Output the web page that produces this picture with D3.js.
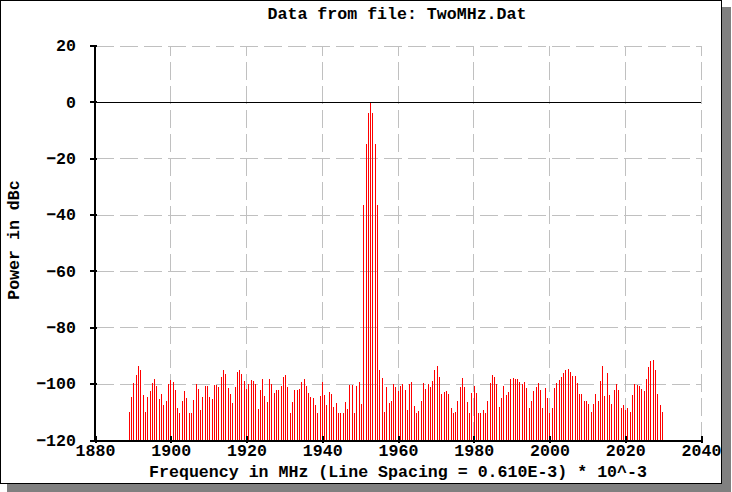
<!DOCTYPE html>
<html><head><meta charset="utf-8">
<script src="https://cdn.jsdelivr.net/npm/d3@7"></script>
<style>
body{margin:0;background:#fff}
svg{display:block}
text{font-family:"Liberation Mono","Courier New",monospace;font-weight:bold;fill:#000}
</style>
</head><body>
<svg id="chart" width="732" height="492"></svg>
<script>
// ---- data ----
const chartTitle = "Data from file: TwoMHz.Dat";
const xTitle = "Frequency in MHz (Line Spacing = 0.610E-3) * 10^-3";
const yTitle = "Power in dBc";
const xTicks = [1880, 1900, 1920, 1940, 1960, 1980, 2000, 2020, 2040];
const yTicks = [20, 0, -20, -40, -60, -80, -100, -120];
const startFreq = 1889.08;     // MHz, first spectral line
const lineSpacing = 0.6066;    // MHz between lines
const powerDbc = [
 -110.2,-104.9,-99.6,-97.0,-93.6,-95.0,-104.0,-110.0,-104.6,-102.5,
 -99.6,-98.2,-101.0,-105.6,-103.6,-107.5,-106.1,-100.3,-98.6,-99.3,
 -102.1,-108.5,-110.3,-106.1,-102.5,-105.0,-110.3,-110.3,-105.7,-100.1,
 -101.8,-109.3,-104.8,-100.7,-100.7,-104.9,-105.6,-100.6,-100.6,-101.3,
 -97.7,-95.2,-96.7,-101.7,-103.5,-106.7,-101.3,-96.0,-95.2,-96.7,
 -99.2,-102.0,-100.2,-98.8,-99.2,-100.2,-108.9,-102.1,-98.2,-104.3,
 -106.4,-98.5,-100.0,-103.2,-102.1,-102.1,-100.7,-97.5,-97.1,-101.1,
 -110.3,-106.4,-102.3,-102.4,-101.8,-99.3,-98.3,-101.0,-103.3,-104.8,
 -105.2,-107.5,-110.3,-104.5,-99.3,-103.9,-107.6,-103.0,-103.7,-108.2,
 -107.0,-110.4,-110.4,-110.4,-106.6,-109.0,-100.5,-100.5,-110.3,-100.8,
 -99.4,-107.2,-36.5,-15.0,-3.9,0,-3.9,-15.0,-36.5,-95.2,
 -98.1,-110.2,-101.3,-106.7,-106.1,-100.0,-101.1,-102.5,-100.7,-100.0,
 -102.1,-109.3,-100.3,-99.3,-107.8,-110.3,-109.6,-106.1,-99.7,-101.8,
 -100.3,-101.1,-98.9,-95.0,-93.9,-97.5,-103.6,-103.1,-102.5,-103.5,
 -108.6,-110.3,-110.0,-106.1,-101.1,-97.9,-101.1,-106.4,-110.3,-103.2,
 -100.7,-103.2,-110.3,-110.3,-109.3,-110.3,-106.1,-99.7,-97.1,-97.5,
 -100.3,-108.2,-105.0,-100.7,-103.9,-102.8,-98.2,-97.9,-98.4,-98.3,
 -99.5,-100.3,-99.3,-101.6,-108.6,-106.1,-102.5,-101.2,-99.7,-102.1,
 -108.8,-101.4,-105.1,-110.3,-108.6,-101.5,-99.7,-98.8,-97.7,-96.3,
 -95.2,-94.9,-96.0,-97.4,-97.4,-99.9,-103.8,-103.8,-106.0,-106.3,
 -107.4,-110.2,-107.4,-103.5,-106.3,-99.2,-93.8,-104.5,-96.3,-104.2,
 -107.4,-102.4,-100.2,-102.4,-108.8,-107.7,-109.5,-108.8,-110.2,-104.2,
 -100.2,-100.6,-101.0,-102.0,-102.7,-98.5,-94.2,-92.0,-91.7,-95.2,
 -103.8,-107.7,-110.2
];
const freqs = powerDbc.map((v, i) => startFreq + i * lineSpacing);

// ---- drawing ----
const svg = d3.select("#chart");
const fontSize = 16.6;

// frame with drop shadow
svg.append("rect").attr("x", 7).attr("y", 7).attr("width", 724).attr("height", 485).attr("fill", "#808080");
svg.append("rect").attr("x", 0.5).attr("y", 0.5).attr("width", 721).attr("height", 483)
  .attr("fill", "#fff").attr("stroke", "#000").attr("stroke-width", 1);

const x = d3.scaleLinear().domain([1880, 2040]).range([95, 701]);
const y = d3.scaleLinear().domain([-120, 20]).range([440, 45.5]);
const px = v => Math.floor(x(v)) + 0.5;
const py = v => Math.round(y(v)) + 0.5;

// grid
const grid = svg.append("g").attr("stroke", "#c0c0c0").attr("stroke-width", 1)
  .attr("stroke-dasharray", "18,6").attr("shape-rendering", "crispEdges");
grid.selectAll("line.h").data(yTicks.filter(t => t !== -120 && t !== 0)).join("line")
  .attr("class", "h").attr("x1", 96).attr("x2", 701)
  .attr("y1", d => py(d)).attr("y2", d => py(d));
grid.selectAll("line.v").data(xTicks.filter(t => t !== 1880)).join("line")
  .attr("class", "v").attr("x1", d => px(d)).attr("x2", d => px(d))
  .attr("y1", 440).attr("y2", y(20));

// bars (spectral lines)
svg.append("g").attr("stroke", "#ff0000").attr("stroke-width", 1).attr("shape-rendering", "crispEdges")
  .selectAll("line").data(powerDbc).join("line")
  .attr("x1", (d, i) => px(freqs[i])).attr("x2", (d, i) => px(freqs[i]))
  .attr("y1", y(-120)).attr("y2", d => y(d));

// zero reference line
svg.append("line").attr("x1", x(1880)).attr("x2", x(2040)).attr("y1", py(0)).attr("y2", py(0))
  .attr("stroke", "#000").attr("stroke-width", 1).attr("shape-rendering", "crispEdges");

// axes
const gx = svg.append("g").attr("transform", "translate(0,440)")
  .call(d3.axisBottom(x).tickValues(xTicks).tickFormat(d3.format("d")).tickSizeInner(4).tickSizeOuter(0));
gx.attr("font-family", null).attr("font-size", null);
gx.select(".domain").attr("stroke", "#000").attr("stroke-width", 2).attr("shape-rendering", "crispEdges");
gx.selectAll(".tick line").attr("y1", -4).attr("y2", 3).attr("stroke", "#000").attr("stroke-width", 2)
  .attr("shape-rendering", "crispEdges");
gx.selectAll(".tick text").attr("y", 16).attr("dy", null).style("font-size", fontSize + "px");

const gy = svg.append("g").attr("transform", "translate(94,0)")
  .call(d3.axisLeft(y).tickValues(yTicks).tickSizeInner(4).tickSizeOuter(0));
gy.attr("font-family", null).attr("font-size", null);
gy.select(".domain").attr("stroke", "#000").attr("stroke-width", 2).attr("shape-rendering", "crispEdges");
gy.selectAll(".tick line").attr("x1", -4).attr("x2", 3).attr("stroke", "#000").attr("stroke-width", 2)
  .attr("shape-rendering", "crispEdges");
gy.selectAll(".tick text").attr("x", -18).style("font-size", fontSize + "px");

// titles
svg.append("text").attr("x", 397).attr("y", 19).attr("text-anchor", "middle")
  .style("font-size", fontSize + "px").text(chartTitle);
svg.append("text").attr("x", 398).attr("y", 477).attr("text-anchor", "middle")
  .style("font-size", fontSize + "px").text(xTitle);
svg.append("text").attr("transform", "translate(19,240) rotate(-90)").attr("text-anchor", "middle")
  .style("font-size", fontSize + "px").text(yTitle);
</script>
</body></html>
